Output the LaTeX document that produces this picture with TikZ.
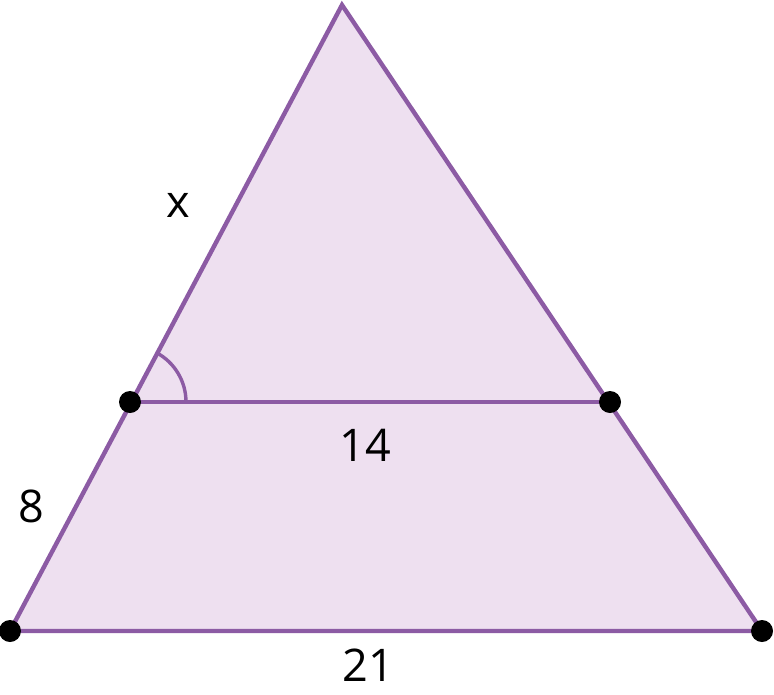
\documentclass[tikz,border=0pt]{standalone}
\usepackage{fontspec}
\setmainfont{Open Sans}
\usetikzlibrary{calc}
\definecolor{edge}{HTML}{8C5BA4}
\definecolor{face}{HTML}{EEE0F0}
\tikzset{
  side/.style={draw=edge, line width=4.4pt, line join=miter},
  pt/.style={circle, fill=black, inner sep=0pt, minimum size=22pt},
  lbl/.style={font=\fontsize{45}{54}\selectfont, inner sep=0pt, anchor=center}
}
\begin{document}
\begin{tikzpicture}[x=1pt,y=-1pt]
\useasboundingbox (0,0) rectangle (774,694);
\coordinate (A) at (342,5);
\coordinate (B) at (10,631);
\coordinate (C) at (762,631);
\coordinate (D) at (130,402);
\coordinate (E) at (610,402);
\fill[face] (A) -- (B) -- (C) -- cycle;
\draw[side] (A) -- (B) -- (C) -- cycle;
\draw[side] (D) -- (E);
\draw[draw=edge, line width=3.4pt] ($(D)+(56,0)$) arc[start angle=0, end angle=-62.06, radius=56];
\node[pt] (nB) at (B) {};
\node[pt] (nC) at (C) {};
\node[pt] (nD) at (D) {};
\node[pt] (nE) at (E) {};
\node[lbl] (lx) at (178,205) {x};
\node[lbl] (l14) at (365,445) {14};
\node[lbl] (l8) at (31,506) {8};
\node[lbl] (l21) at (368,665) {21};
\end{tikzpicture}
\end{document}
